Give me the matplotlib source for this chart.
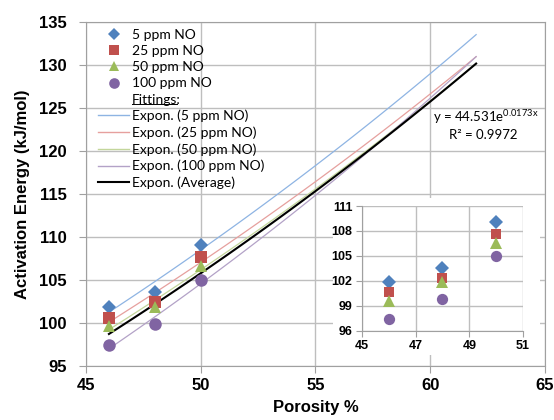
"""
Activation energy vs porosity, with exponential fittings and a zoomed inset
"""

import numpy as np
import matplotlib
matplotlib.use('Agg')
import matplotlib.pyplot as plt
from matplotlib.lines import Line2D
from matplotlib.patches import Rectangle

porosity = [46, 48, 50]
e_5ppm   = [101.8, 103.6, 109.1]
e_25ppm  = [100.6, 102.4, 107.6]
e_50ppm  = [99.6, 101.8, 106.6]
e_100ppm = [97.4, 99.8, 105.0]

series_labels = ['5 ppm NO', '25 ppm NO', '50 ppm NO', '100 ppm NO']
fit_labels = ['Expon. (5 ppm NO)', 'Expon. (25 ppm NO)', 'Expon. (50 ppm NO)',
              'Expon. (100 ppm NO)', 'Expon. (Average)']
fit_end = 62  # trendline forecast end
avg_a, avg_b = 44.531, 0.0173  # average fit as printed on the chart

colors  = ['#4F81BD', '#C0504D', '#9BBB59', '#8064A2']
lcolors = ['#8EB4E3', '#E6A09E', '#C3D69B', '#B3A2C7']
markers = ['D', 's', '^', 'o']
msizes  = [7.5, 8.5, 9, 9]

BOLD = 'Liberation Sans'
TXT = 'Lato'
plt.rcParams['mathtext.default'] = 'regular'


def expfit(x, y):
    b, loga = np.polyfit(x, np.log(y), 1)
    return np.exp(loga), b


def main():
    all_series = [e_5ppm, e_25ppm, e_50ppm, e_100ppm]

    fig = plt.figure(figsize=(5.54, 4.2), dpi=100)
    ax = fig.add_axes([0.1552, 0.1293, 0.8285, 0.8183])

    xf = np.linspace(porosity[0], fit_end, 100)
    handles_pts, handles_fit = [], []
    for ys, c, lc, m, ms in zip(all_series, colors, lcolors, markers, msizes):
        a, b = expfit(porosity, ys)
        ax.plot(xf, a * np.exp(b * xf), color=lc, lw=0.9, zorder=2)
        ax.plot(porosity, ys, linestyle='none', marker=m, ms=ms, color=c,
                markeredgewidth=0, zorder=4)
        handles_pts.append(Line2D([], [], linestyle='none', marker=m, ms=ms * 0.85,
                                  color=c, markeredgewidth=0))
        handles_fit.append(Line2D([], [], color=lc, lw=1))
    ax.plot(xf, avg_a * np.exp(avg_b * xf), color='black', lw=1.5, zorder=3)
    handles_fit.append(Line2D([], [], color='black', lw=1.5))

    ax.set_xlim(45, 65)
    ax.set_ylim(95, 135)
    ax.set_xticks(range(45, 66, 5))
    ax.set_yticks(range(95, 136, 5))
    ax.grid(True, color='#BEBEBE', lw=1)
    ax.set_axisbelow(True)
    for s in ax.spines.values():
        s.set_color('#A0A0A0')
    ax.tick_params(colors='#A0A0A0', length=5, labelcolor='black')
    ax.tick_params(axis='y', pad=9)
    ax.tick_params(axis='x', pad=4)
    for t in ax.get_xticklabels() + ax.get_yticklabels():
        t.set_fontfamily(BOLD)
        t.set_fontweight('bold')
        t.set_fontsize(12)
    ax.set_xlabel('Porosity %', fontfamily=BOLD, fontweight='bold', fontsize=12, labelpad=5)
    ax.set_ylabel('Activation Energy (kJ/mol)', fontfamily=BOLD, fontweight='bold',
                  fontsize=12, labelpad=6)

    blank = Line2D([], [], linestyle='none')
    leg = ax.legend(handles_pts + [blank] + handles_fit,
                    series_labels + ['Fittings:'] + fit_labels,
                    loc='upper left', bbox_to_anchor=(0.012, 1.0), frameon=False,
                    prop={'family': TXT, 'size': 10}, handlelength=2.2,
                    handletextpad=0.2, labelspacing=0.3, borderaxespad=0.1)

    ax.text(0.756, 0.724, 'y = 44.531e$^{0.0173x}$', transform=ax.transAxes,
            fontfamily=TXT, fontsize=9.5, ha='left', va='center')
    ax.text(0.791, 0.671, 'R² = 0.9972', transform=ax.transAxes,
            fontfamily=TXT, fontsize=9.5, ha='left', va='center')

    # white backdrop for the inset
    fig.patches.append(Rectangle((333 / 554, 1 - 355 / 420), 207 / 554, 157 / 420,
                                 transform=fig.transFigure, facecolor='white',
                                 edgecolor='none', zorder=5))

    ins = fig.add_axes([0.6534, 0.2126, 0.2906, 0.2969], zorder=6)
    for ys, c, m, ms in zip(all_series, colors, markers, msizes):
        ins.plot(porosity, ys, linestyle='none', marker=m, ms=ms * 0.9, color=c,
                 markeredgewidth=0, zorder=4)
    ins.set_xlim(45, 51)
    ins.set_ylim(96, 111)
    ins.set_xticks([45, 47, 49, 51])
    ins.set_yticks(range(96, 112, 3))
    ins.grid(True, color='#BEBEBE', lw=1)
    ins.set_axisbelow(True)
    ins.spines['top'].set_visible(False)
    ins.spines['right'].set_visible(False)
    ins.spines['left'].set_color('#A0A0A0')
    ins.spines['bottom'].set_color('#A0A0A0')
    ins.tick_params(colors='#A0A0A0', length=4, labelcolor='black', pad=3)
    for t in ins.get_xticklabels() + ins.get_yticklabels():
        t.set_fontfamily(BOLD)
        t.set_fontweight('bold')
        t.set_fontsize(9)

    # underline "Fittings:"
    fig.canvas.draw()
    txt = leg.get_texts()[4]
    bb = txt.get_window_extent().transformed(fig.transFigure.inverted())
    fig.add_artist(Line2D([bb.x0, bb.x1 - 0.006], [bb.y0 + 0.005, bb.y0 + 0.005],
                          transform=fig.transFigure, color='black', lw=0.7))

    fig.savefig('out.png', dpi=100)


if __name__ == "__main__":
    main()
